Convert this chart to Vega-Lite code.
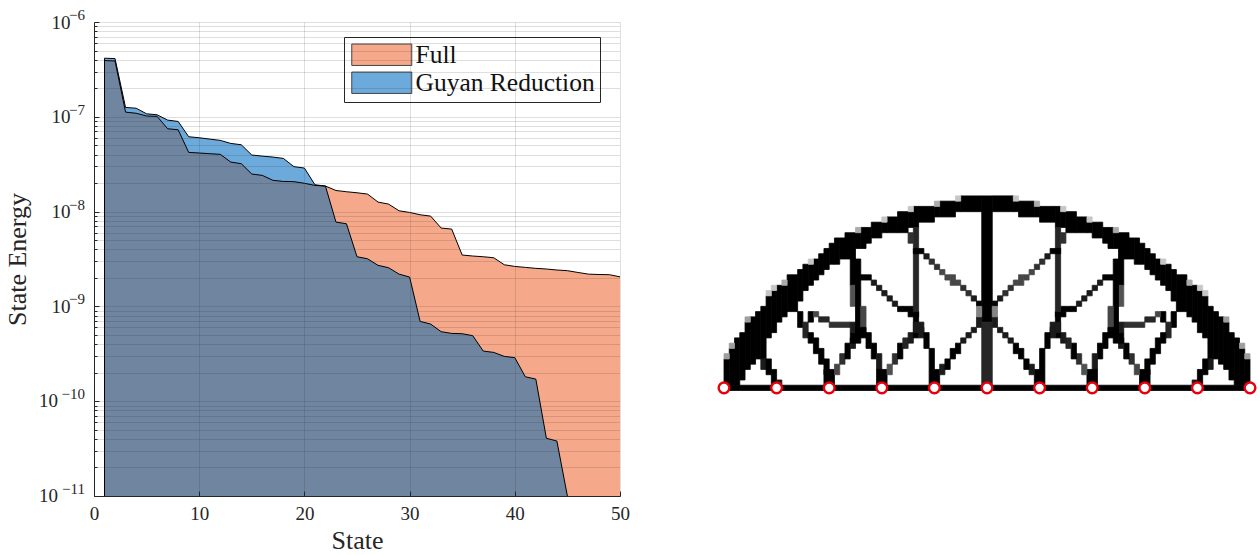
{"$schema":"https://vega.github.io/schema/vega-lite/v6.json","padding":{"left":4,"top":8,"right":0,"bottom":0},"background":"white","bounds":"flush","spacing":104,"config":{"view":{"stroke":null},"font":"Liberation Serif"},"resolve":{"scale":{"color":"independent","x":"independent","y":"independent"}},"datasets":{"curves":[{"state":1,"full":3.92e-7,"guyan":4.15e-7,"both":3.92e-7},{"state":2,"full":3.88e-7,"guyan":4.11e-7,"both":3.88e-7},{"state":3,"full":1.12e-7,"guyan":1.254e-7,"both":1.12e-7},{"state":4,"full":1.09e-7,"guyan":1.233e-7,"both":1.09e-7},{"state":5,"full":1.02e-7,"guyan":1.075e-7,"both":1.02e-7},{"state":6,"full":1.01e-7,"guyan":1.05e-7,"both":1.01e-7},{"state":7,"full":7.48e-8,"guyan":9.23e-8,"both":7.48e-8},{"state":8,"full":7.3e-8,"guyan":8.93e-8,"both":7.3e-8},{"state":9,"full":4.21e-8,"guyan":6.16e-8,"both":4.21e-8},{"state":10,"full":4.15e-8,"guyan":6.01e-8,"both":4.15e-8},{"state":11,"full":4.08e-8,"guyan":5.82e-8,"both":4.08e-8},{"state":12,"full":4.02e-8,"guyan":5.64e-8,"both":4.02e-8},{"state":13,"full":3.33e-8,"guyan":5.24e-8,"both":3.33e-8},{"state":14,"full":3.2e-8,"guyan":5.07e-8,"both":3.2e-8},{"state":15,"full":2.49e-8,"guyan":3.95e-8,"both":2.49e-8},{"state":16,"full":2.41e-8,"guyan":3.85e-8,"both":2.41e-8},{"state":17,"full":2.14e-8,"guyan":3.76e-8,"both":2.14e-8},{"state":18,"full":2.08e-8,"guyan":3.64e-8,"both":2.08e-8},{"state":19,"full":2.07e-8,"guyan":2.98e-8,"both":2.07e-8},{"state":20,"full":1.99e-8,"guyan":2.88e-8,"both":1.99e-8},{"state":21,"full":1.89e-8,"guyan":1.92e-8,"both":1.89e-8},{"state":22,"full":1.86e-8,"guyan":1.86e-8,"both":1.86e-8},{"state":23,"full":1.67e-8,"guyan":7.75e-9,"both":7.75e-9},{"state":24,"full":1.62e-8,"guyan":7.44e-9,"both":7.44e-9},{"state":25,"full":1.58e-8,"guyan":3.34e-9,"both":3.34e-9},{"state":26,"full":1.53e-8,"guyan":3.18e-9,"both":3.18e-9},{"state":27,"full":1.26e-8,"guyan":2.71e-9,"both":2.71e-9},{"state":28,"full":1.2e-8,"guyan":2.56e-9,"both":2.56e-9},{"state":29,"full":1.02e-8,"guyan":2.19e-9,"both":2.19e-9},{"state":30,"full":9.8e-9,"guyan":2.04e-9,"both":2.04e-9},{"state":31,"full":9.26e-9,"guyan":6.95e-10,"both":6.95e-10},{"state":32,"full":8.96e-9,"guyan":6.51e-10,"both":6.51e-10},{"state":33,"full":6.7e-9,"guyan":5.41e-10,"both":5.41e-10},{"state":34,"full":6.54e-9,"guyan":5.19e-10,"both":5.19e-10},{"state":35,"full":3.48e-9,"guyan":5.15e-10,"both":5.15e-10},{"state":36,"full":3.4e-9,"guyan":4.91e-10,"both":4.91e-10},{"state":37,"full":3.34e-9,"guyan":3.38e-10,"both":3.38e-10},{"state":38,"full":3.26e-9,"guyan":3.27e-10,"both":3.27e-10},{"state":39,"full":2.75e-9,"guyan":2.97e-10,"both":2.97e-10},{"state":40,"full":2.64e-9,"guyan":2.88e-10,"both":2.88e-10},{"state":41,"full":2.58e-9,"guyan":1.81e-10,"both":1.81e-10},{"state":42,"full":2.52e-9,"guyan":1.71e-10,"both":1.71e-10},{"state":43,"full":2.48e-9,"guyan":4.07e-11,"both":4.07e-11},{"state":44,"full":2.42e-9,"guyan":3.8e-11,"both":3.8e-11},{"state":45,"full":2.38e-9,"guyan":1e-11,"both":1e-11},{"state":46,"full":2.28e-9},{"state":47,"full":2.19e-9},{"state":48,"full":2.17e-9},{"state":49,"full":2.16e-9},{"state":50,"full":2.05e-9}],"exps":[{"x0":0,"val":1e-6,"e":"−6"},{"x0":0,"val":1e-7,"e":"−7"},{"x0":0,"val":1e-8,"e":"−8"},{"x0":0,"val":1e-9,"e":"−9"},{"x0":0,"val":1e-10,"e":"−10"},{"x0":0,"val":1e-11,"e":"−11"}],"bases":[{"x0":0,"val":1e-10,"e":"10"},{"x0":0,"val":1e-11,"e":"10"}],"cells":[{"a":0,"b":100,"u":0,"t":1,"v":1},{"a":0,"b":1,"u":0,"t":6,"v":1},{"a":1,"b":2,"u":1,"t":8,"v":1},{"a":2,"b":3,"u":1,"t":10,"v":1},{"a":3,"b":4,"u":2,"t":11,"v":1},{"a":4,"b":5,"u":4,"t":13,"v":1},{"a":5,"b":6,"u":5,"t":14,"v":1},{"a":6,"b":7,"u":6,"t":15,"v":1},{"a":7,"b":8,"u":6,"t":16,"v":1},{"a":8,"b":9,"u":10,"t":18,"v":1},{"a":9,"b":10,"u":11,"t":19,"v":1},{"a":10,"b":11,"u":13,"t":20,"v":1},{"a":11,"b":12,"u":14,"t":20,"v":1},{"a":12,"b":14,"u":15,"t":22,"v":1},{"a":14,"b":15,"u":17,"t":23,"v":1},{"a":15,"b":16,"u":19,"t":24,"v":1},{"a":16,"b":17,"u":20,"t":24,"v":1},{"a":17,"b":18,"u":21,"t":25,"v":1},{"a":18,"b":19,"u":22,"t":26,"v":1},{"a":19,"b":20,"u":23,"t":27,"v":1},{"a":20,"b":21,"u":24,"t":28,"v":1},{"a":21,"b":22,"u":24,"t":29,"v":1},{"a":22,"b":23,"u":25,"t":29,"v":1},{"a":23,"b":25,"u":25,"t":30,"v":1},{"a":25,"b":26,"u":27,"t":30,"v":1},{"a":26,"b":27,"u":27,"t":31,"v":1},{"a":27,"b":28,"u":28,"t":31,"v":1},{"a":28,"b":30,"u":29,"t":32,"v":1},{"a":30,"b":31,"u":30,"t":32,"v":1},{"a":31,"b":33,"u":30,"t":33,"v":1},{"a":33,"b":35,"u":30,"t":34,"v":1},{"a":35,"b":36,"u":31,"t":34,"v":1},{"a":36,"b":37,"u":31,"t":35,"v":1},{"a":37,"b":40,"u":32,"t":35,"v":1},{"a":40,"b":41,"u":33,"t":35,"v":1},{"a":41,"b":44,"u":33,"t":36,"v":1},{"a":44,"b":45,"u":34,"t":36,"v":1},{"a":45,"b":49,"u":34,"t":37,"v":1},{"a":49,"b":51,"u":13,"t":37,"v":1},{"a":49,"b":51,"u":1,"t":13,"v":0.85},{"a":51,"b":55,"u":34,"t":37,"v":1},{"a":55,"b":56,"u":34,"t":36,"v":1},{"a":56,"b":59,"u":33,"t":36,"v":1},{"a":59,"b":60,"u":33,"t":35,"v":1},{"a":60,"b":63,"u":32,"t":35,"v":1},{"a":63,"b":64,"u":31,"t":35,"v":1},{"a":64,"b":65,"u":31,"t":34,"v":1},{"a":65,"b":67,"u":30,"t":34,"v":1},{"a":67,"b":69,"u":30,"t":33,"v":1},{"a":69,"b":70,"u":30,"t":32,"v":1},{"a":70,"b":72,"u":29,"t":32,"v":1},{"a":72,"b":73,"u":28,"t":31,"v":1},{"a":73,"b":74,"u":27,"t":31,"v":1},{"a":74,"b":75,"u":27,"t":30,"v":1},{"a":75,"b":77,"u":25,"t":30,"v":1},{"a":77,"b":78,"u":25,"t":29,"v":1},{"a":78,"b":79,"u":24,"t":29,"v":1},{"a":79,"b":80,"u":24,"t":28,"v":1},{"a":80,"b":81,"u":23,"t":27,"v":1},{"a":81,"b":82,"u":22,"t":26,"v":1},{"a":82,"b":83,"u":21,"t":25,"v":1},{"a":83,"b":84,"u":20,"t":24,"v":1},{"a":84,"b":85,"u":19,"t":24,"v":1},{"a":85,"b":86,"u":17,"t":23,"v":1},{"a":86,"b":88,"u":15,"t":22,"v":1},{"a":88,"b":89,"u":14,"t":20,"v":1},{"a":89,"b":90,"u":13,"t":20,"v":1},{"a":90,"b":91,"u":11,"t":19,"v":1},{"a":91,"b":92,"u":10,"t":18,"v":1},{"a":92,"b":93,"u":6,"t":16,"v":1},{"a":93,"b":94,"u":6,"t":15,"v":1},{"a":94,"b":95,"u":5,"t":14,"v":1},{"a":95,"b":96,"u":4,"t":13,"v":1},{"a":96,"b":97,"u":2,"t":11,"v":1},{"a":97,"b":98,"u":1,"t":10,"v":1},{"a":98,"b":99,"u":1,"t":8,"v":1},{"a":99,"b":100,"u":0,"t":6,"v":1},{"a":0,"b":1,"u":6,"t":7,"v":0.35},{"a":1,"b":2,"u":8,"t":9,"v":0.35},{"a":4,"b":5,"u":13,"t":14,"v":0.35},{"a":8,"b":9,"u":18,"t":19,"v":0.2},{"a":9,"b":10,"u":19,"t":20,"v":0.2},{"a":11,"b":12,"u":20,"t":21,"v":0.3},{"a":16,"b":17,"u":24,"t":25,"v":0.2},{"a":25,"b":26,"u":30,"t":31,"v":0.3},{"a":30,"b":31,"u":32,"t":33,"v":0.2},{"a":35,"b":36,"u":34,"t":35,"v":0.2},{"a":40,"b":41,"u":35,"t":36,"v":0.3},{"a":44,"b":45,"u":36,"t":37,"v":0.2},{"a":99,"b":100,"u":6,"t":7,"v":0.35},{"a":98,"b":99,"u":8,"t":9,"v":0.35},{"a":95,"b":96,"u":13,"t":14,"v":0.35},{"a":91,"b":92,"u":18,"t":19,"v":0.2},{"a":90,"b":91,"u":19,"t":20,"v":0.2},{"a":88,"b":89,"u":20,"t":21,"v":0.3},{"a":83,"b":84,"u":24,"t":25,"v":0.2},{"a":74,"b":75,"u":30,"t":31,"v":0.3},{"a":69,"b":70,"u":32,"t":33,"v":0.2},{"a":64,"b":65,"u":34,"t":35,"v":0.2},{"a":59,"b":60,"u":35,"t":36,"v":0.3},{"a":55,"b":56,"u":36,"t":37,"v":0.2},{"a":7,"b":8,"u":4,"t":6,"v":0.9},{"a":8,"b":9,"u":3,"t":6,"v":1},{"a":9,"b":10,"u":1,"t":4,"v":1},{"a":10,"b":11,"u":1,"t":2,"v":0.9},{"a":14,"b":15,"u":12,"t":15,"v":1},{"a":15,"b":16,"u":10,"t":13,"v":0.85},{"a":16,"b":17,"u":9,"t":11,"v":1},{"a":17,"b":18,"u":7,"t":10,"v":1},{"a":18,"b":19,"u":5,"t":8,"v":1},{"a":19,"b":20,"u":3,"t":6,"v":1},{"a":19,"b":21,"u":1,"t":4,"v":1},{"a":21,"b":22,"u":3,"t":5,"v":0.7},{"a":22,"b":23,"u":5,"t":7,"v":0.8},{"a":23,"b":24,"u":6,"t":9,"v":1},{"a":24,"b":25,"u":8,"t":10,"v":0.9},{"a":24,"b":26,"u":9,"t":11,"v":1},{"a":16,"b":17,"u":13,"t":15,"v":1},{"a":17,"b":18,"u":14,"t":15,"v":0.7},{"a":18,"b":20,"u":13,"t":14,"v":0.85},{"a":20,"b":24,"u":12,"t":13,"v":0.8},{"a":24,"b":25,"u":11,"t":13,"v":0.9},{"a":24,"b":25,"u":20,"t":25,"v":1},{"a":24,"b":25,"u":16,"t":20,"v":0.65},{"a":25,"b":26,"u":11,"t":25,"v":1},{"a":26,"b":27,"u":11,"t":16,"v":0.7},{"a":25,"b":27,"u":10,"t":12,"v":1},{"a":27,"b":28,"u":8,"t":11,"v":1},{"a":28,"b":29,"u":6,"t":9,"v":1},{"a":29,"b":30,"u":4,"t":7,"v":0.9},{"a":29,"b":31,"u":1,"t":4,"v":1},{"a":31,"b":32,"u":3,"t":5,"v":0.65},{"a":32,"b":33,"u":5,"t":7,"v":0.8},{"a":33,"b":34,"u":6,"t":9,"v":1},{"a":34,"b":35,"u":8,"t":10,"v":0.85},{"a":35,"b":36,"u":9,"t":11,"v":0.9},{"a":36,"b":37,"u":10,"t":12,"v":1},{"a":26,"b":28,"u":21,"t":22,"v":1},{"a":28,"b":29,"u":20,"t":21,"v":0.9},{"a":29,"b":30,"u":19,"t":20,"v":0.9},{"a":30,"b":31,"u":18,"t":19,"v":0.9},{"a":31,"b":32,"u":17,"t":18,"v":0.9},{"a":32,"b":33,"u":16,"t":17,"v":0.9},{"a":33,"b":34,"u":15,"t":16,"v":1},{"a":34,"b":36,"u":15,"t":16,"v":1},{"a":35,"b":37,"u":14,"t":15,"v":1},{"a":36,"b":37,"u":12,"t":15,"v":1},{"a":36,"b":38,"u":11,"t":13,"v":0.9},{"a":36,"b":37,"u":15,"t":31,"v":0.85},{"a":35,"b":36,"u":28,"t":30,"v":0.8},{"a":37,"b":38,"u":10,"t":12,"v":0.9},{"a":38,"b":39,"u":8,"t":11,"v":1},{"a":39,"b":40,"u":4,"t":8,"v":1},{"a":39,"b":41,"u":1,"t":4,"v":1},{"a":41,"b":42,"u":3,"t":5,"v":0.9},{"a":42,"b":43,"u":4,"t":6,"v":1},{"a":43,"b":44,"u":6,"t":8,"v":1},{"a":44,"b":45,"u":7,"t":9,"v":1},{"a":45,"b":46,"u":9,"t":10,"v":0.9},{"a":46,"b":47,"u":10,"t":11,"v":0.9},{"a":47,"b":48,"u":11,"t":12,"v":0.9},{"a":48,"b":49,"u":12,"t":14,"v":0.9},{"a":36,"b":38,"u":26,"t":27,"v":1},{"a":38,"b":39,"u":25,"t":26,"v":0.9},{"a":39,"b":40,"u":24,"t":25,"v":0.8},{"a":40,"b":41,"u":23,"t":24,"v":0.8},{"a":41,"b":42,"u":22,"t":23,"v":0.7},{"a":42,"b":43,"u":21,"t":22,"v":0.7},{"a":43,"b":44,"u":20,"t":22,"v":0.7},{"a":44,"b":45,"u":20,"t":21,"v":0.7},{"a":45,"b":46,"u":19,"t":20,"v":0.8},{"a":46,"b":47,"u":18,"t":19,"v":0.8},{"a":47,"b":48,"u":17,"t":18,"v":0.9},{"a":48,"b":49,"u":16,"t":17,"v":1},{"a":48,"b":49,"u":14,"t":16,"v":0.45},{"a":92,"b":93,"u":4,"t":6,"v":0.9},{"a":91,"b":92,"u":3,"t":6,"v":1},{"a":90,"b":91,"u":1,"t":4,"v":1},{"a":89,"b":90,"u":1,"t":2,"v":0.9},{"a":85,"b":86,"u":12,"t":15,"v":1},{"a":84,"b":85,"u":10,"t":13,"v":0.85},{"a":83,"b":84,"u":9,"t":11,"v":1},{"a":82,"b":83,"u":7,"t":10,"v":1},{"a":81,"b":82,"u":5,"t":8,"v":1},{"a":80,"b":81,"u":3,"t":6,"v":1},{"a":79,"b":81,"u":1,"t":4,"v":1},{"a":78,"b":79,"u":3,"t":5,"v":0.7},{"a":77,"b":78,"u":5,"t":7,"v":0.8},{"a":76,"b":77,"u":6,"t":9,"v":1},{"a":75,"b":76,"u":8,"t":10,"v":0.9},{"a":74,"b":76,"u":9,"t":11,"v":1},{"a":83,"b":84,"u":13,"t":15,"v":1},{"a":82,"b":83,"u":14,"t":15,"v":0.7},{"a":80,"b":82,"u":13,"t":14,"v":0.85},{"a":76,"b":80,"u":12,"t":13,"v":0.8},{"a":75,"b":76,"u":11,"t":13,"v":0.9},{"a":75,"b":76,"u":20,"t":25,"v":1},{"a":75,"b":76,"u":16,"t":20,"v":0.65},{"a":74,"b":75,"u":11,"t":25,"v":1},{"a":73,"b":74,"u":11,"t":16,"v":0.7},{"a":73,"b":75,"u":10,"t":12,"v":1},{"a":72,"b":73,"u":8,"t":11,"v":1},{"a":71,"b":72,"u":6,"t":9,"v":1},{"a":70,"b":71,"u":4,"t":7,"v":0.9},{"a":69,"b":71,"u":1,"t":4,"v":1},{"a":68,"b":69,"u":3,"t":5,"v":0.65},{"a":67,"b":68,"u":5,"t":7,"v":0.8},{"a":66,"b":67,"u":6,"t":9,"v":1},{"a":65,"b":66,"u":8,"t":10,"v":0.85},{"a":64,"b":65,"u":9,"t":11,"v":0.9},{"a":63,"b":64,"u":10,"t":12,"v":1},{"a":72,"b":74,"u":21,"t":22,"v":1},{"a":71,"b":72,"u":20,"t":21,"v":0.9},{"a":70,"b":71,"u":19,"t":20,"v":0.9},{"a":69,"b":70,"u":18,"t":19,"v":0.9},{"a":68,"b":69,"u":17,"t":18,"v":0.9},{"a":67,"b":68,"u":16,"t":17,"v":0.9},{"a":66,"b":67,"u":15,"t":16,"v":1},{"a":64,"b":66,"u":15,"t":16,"v":1},{"a":63,"b":65,"u":14,"t":15,"v":1},{"a":63,"b":64,"u":12,"t":15,"v":1},{"a":62,"b":64,"u":11,"t":13,"v":0.9},{"a":63,"b":64,"u":15,"t":31,"v":0.85},{"a":64,"b":65,"u":28,"t":30,"v":0.8},{"a":62,"b":63,"u":10,"t":12,"v":0.9},{"a":61,"b":62,"u":8,"t":11,"v":1},{"a":60,"b":61,"u":4,"t":8,"v":1},{"a":59,"b":61,"u":1,"t":4,"v":1},{"a":58,"b":59,"u":3,"t":5,"v":0.9},{"a":57,"b":58,"u":4,"t":6,"v":1},{"a":56,"b":57,"u":6,"t":8,"v":1},{"a":55,"b":56,"u":7,"t":9,"v":1},{"a":54,"b":55,"u":9,"t":10,"v":0.9},{"a":53,"b":54,"u":10,"t":11,"v":0.9},{"a":52,"b":53,"u":11,"t":12,"v":0.9},{"a":51,"b":52,"u":12,"t":14,"v":0.9},{"a":62,"b":64,"u":26,"t":27,"v":1},{"a":61,"b":62,"u":25,"t":26,"v":0.9},{"a":60,"b":61,"u":24,"t":25,"v":0.8},{"a":59,"b":60,"u":23,"t":24,"v":0.8},{"a":58,"b":59,"u":22,"t":23,"v":0.7},{"a":57,"b":58,"u":21,"t":22,"v":0.7},{"a":56,"b":57,"u":20,"t":22,"v":0.7},{"a":55,"b":56,"u":20,"t":21,"v":0.7},{"a":54,"b":55,"u":19,"t":20,"v":0.8},{"a":53,"b":54,"u":18,"t":19,"v":0.8},{"a":52,"b":53,"u":17,"t":18,"v":0.9},{"a":51,"b":52,"u":16,"t":17,"v":1},{"a":51,"b":52,"u":14,"t":16,"v":0.45}],"supports":[{"c":0,"r":0.5},{"c":10,"r":0.5},{"c":20,"r":0.5},{"c":30,"r":0.5},{"c":40,"r":0.5},{"c":50,"r":0.5},{"c":60,"r":0.5},{"c":70,"r":0.5},{"c":80,"r":0.5},{"c":90,"r":0.5},{"c":100,"r":0.5}]},"hconcat":[{"width":526,"height":474,"data":{"name":"curves"},"encoding":{"x":{"field":"state","type":"quantitative","scale":{"domain":[0,50],"nice":false},"axis":{"values":[0,10,20,30,40,50],"title":"State","titleFont":"Liberation Serif","titleFontSize":26,"titleFontWeight":"normal","titleColor":"#262626","titlePadding":4,"labelFont":"Liberation Serif","labelFontSize":19,"labelColor":"#262626","labelPadding":13,"labelFlush":false,"labelOverlap":false,"domainColor":"#262626","tickColor":"#262626","tickSize":-5,"grid":true,"gridColor":"#262626","gridOpacity":0.15,"zindex":1}}},"layer":[{"mark":{"type":"area","clip":true},"encoding":{"y":{"field":"full","type":"quantitative","scale":{"type":"log","domain":[1e-11,1e-6],"nice":false},"axis":{"values":[1e-11,2e-11,3e-11,4e-11,5e-11,6e-11,7e-11,8e-11,9e-11,1e-10,2e-10,3e-10,4e-10,5e-10,6e-10,7e-10,8e-10,9e-10,1e-9,2e-9,3e-9,4e-9,5e-9,6e-9,7e-9,8e-9,9e-9,1e-8,2e-8,3e-8,4e-8,5e-8,6e-8,7e-8,8e-8,9e-8,1e-7,2e-7,3e-7,4e-7,5e-7,6e-7,7e-7,8e-7,9e-7,1e-6],"title":"State Energy","titleFont":"Liberation Serif","titleFontSize":26,"titleFontWeight":"normal","titleColor":"#262626","titlePadding":21,"labelFont":"Liberation Serif","labelFontSize":19,"labelColor":"#262626","labelPadding":29,"labelOverlap":false,"labelExpr":"datum.value>5e-10 && abs(log(datum.value)/LN10-round(log(datum.value)/LN10))<0.001 ? '10' : ''","domainColor":"#262626","tickColor":"#262626","tickSize":{"condition":{"test":"abs(log(datum.value)/LN10-round(log(datum.value)/LN10))<0.001","value":-5},"value":-3},"grid":true,"gridColor":"#262626","gridOpacity":{"condition":{"test":"abs(log(datum.value)/LN10-round(log(datum.value)/LN10))<0.001","value":0.15},"value":0.3},"gridDash":{"condition":{"test":"abs(log(datum.value)/LN10-round(log(datum.value)/LN10))<0.001","value":[]},"value":[1,1]},"zindex":1}},"y2":{"datum":1e-11},"color":{"datum":"Full","scale":{"domain":["Full","Guyan Reduction"],"range":["#F6A98A","#6DAADC"]},"legend":{"orient":"none","legendX":250,"legendY":15,"title":null,"fillColor":"white","strokeColor":"#262626","padding":5,"labelFont":"Liberation Serif","labelFontSize":25.5,"labelColor":"#111111","labelOffset":41,"labelLimit":400,"symbolType":"M-1,-1.07H5V1.07H-1Z","symbolSize":400,"symbolStrokeColor":"#444444","symbolStrokeWidth":1,"symbolOpacity":1,"rowPadding":1}}}},{"mark":{"type":"area","clip":true},"encoding":{"y":{"field":"guyan","type":"quantitative"},"y2":{"datum":1e-11},"color":{"datum":"Guyan Reduction"}}},{"mark":{"type":"area","clip":true,"color":"#70859F"},"encoding":{"y":{"field":"both","type":"quantitative"},"y2":{"datum":1e-11}}},{"mark":{"type":"line","color":"black","strokeWidth":1,"clip":true},"encoding":{"y":{"field":"full","type":"quantitative"}}},{"mark":{"type":"line","color":"black","strokeWidth":1,"clip":true},"encoding":{"y":{"field":"guyan","type":"quantitative"}}},{"data":{"values":[{"state":1,"lo":1e-11,"hi":4.15e-7}]},"mark":{"type":"rule","color":"black","strokeWidth":1},"encoding":{"y":{"field":"lo","type":"quantitative"},"y2":{"field":"hi"}}},{"data":{"name":"exps"},"mark":{"type":"text","align":"right","baseline":"middle","dx":-9,"dy":-7,"fontSize":15,"font":"Liberation Serif","color":"#262626","clip":false},"encoding":{"x":{"field":"x0","type":"quantitative"},"y":{"field":"val","type":"quantitative"},"text":{"field":"e"}}},{"data":{"name":"bases"},"mark":{"type":"text","align":"right","baseline":"middle","dx":-36,"fontSize":19,"font":"Liberation Serif","color":"#262626","clip":false},"encoding":{"x":{"field":"x0","type":"quantitative"},"y":{"field":"val","type":"quantitative"},"text":{"field":"e"}}}]},{"width":526,"height":474,"layer":[{"data":{"name":"cells"},"mark":{"type":"rect","strokeWidth":0.8},"encoding":{"x":{"field":"a","type":"quantitative","scale":{"domain":[0,100],"nice":false,"zero":false},"axis":null},"x2":{"field":"b"},"y":{"field":"u","type":"quantitative","scale":{"domain":[-20.06,70.06],"nice":false,"zero":false},"axis":null},"y2":{"field":"t"},"fill":{"field":"v","type":"quantitative","scale":{"domain":[0,1],"range":["#ffffff","#000000"]},"legend":null},"stroke":{"field":"v","type":"quantitative","scale":{"domain":[0,1],"range":["#ffffff","#000000"]},"legend":null}}},{"data":{"name":"supports"},"mark":{"type":"point","shape":"circle","filled":false,"fill":"white","fillOpacity":1,"stroke":"#E8000D","strokeWidth":2.4,"opacity":1,"size":115,"clip":false},"encoding":{"x":{"field":"c","type":"quantitative"},"y":{"field":"r","type":"quantitative"}}}]}]}
